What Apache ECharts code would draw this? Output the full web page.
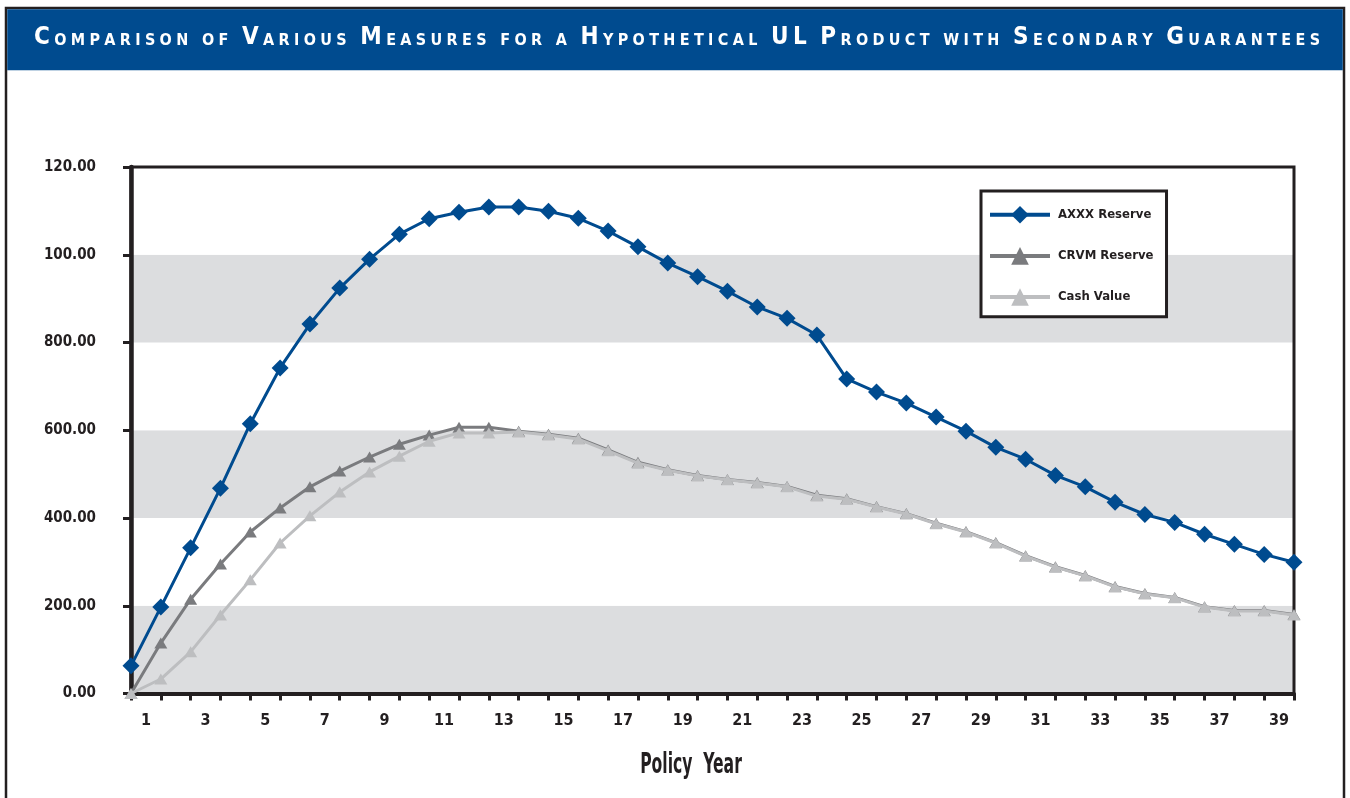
<!DOCTYPE html>
<html>
<head>
<meta charset="utf-8">
<script src="https://cdn.jsdelivr.net/npm/echarts@6/dist/echarts.min.js"></script>
<style>
  html, body { margin: 0; padding: 0; background: #ffffff; }
  #chart { width: 1350px; height: 798px; }
</style>
</head>
<body>
<div id="chart"></div>
<script>
// ---- chart text and values ----
const titleText = 'Comparison of Various Measures for a Hypothetical UL Product with Secondary Guarantees';
const xAxisTitle = 'Policy  Year';

const policyYears = ['1','2','3','4','5','6','7','8','9','10','11','12','13','14','15','16','17','18','19','20',
                     '21','22','23','24','25','26','27','28','29','30','31','32','33','34','35','36','37','38','39','40'];
const yearLabels = ['1','2','3','4','5','6','7','8','9','10','11','12','13','14','15','16','17','18','19','20',
                    '21','22','23','24','25','26','27','28','29','30','31','32','33','34','35','36','37','38','39'];
const yTickLabels = ['0.00', '200.00', '400.00', '600.00', '800.00', '100.00', '120.00'];

const seriesNames = ['AXXX Reserve', 'CRVM Reserve', 'Cash Value'];

const axxxReserve = [63, 197, 332, 468, 615, 742, 842, 924, 990, 1047,
                     1082, 1097, 1109, 1109, 1099, 1083, 1054, 1018, 981, 950,
                     917, 881, 855, 817, 717, 687, 662, 630, 598, 561,
                     534, 497, 471, 436, 408, 390, 363, 340, 317, 299];
const crvmReserve = [0, 115, 215, 295, 368, 423, 471, 507, 539, 568,
                     589, 607, 607, 598, 591, 582, 555, 527, 510, 497,
                     488, 481, 472, 452, 444, 426, 410, 388, 369, 344,
                     314, 289, 269, 244, 228, 219, 198, 189, 189, 180];
const cashValue   = [0, 33, 95, 179, 259, 343, 405, 459, 505, 541,
                     575, 594, 594, 596, 589, 580, 553, 525, 509, 496,
                     487, 480, 471, 450, 443, 425, 409, 387, 368, 343,
                     313, 288, 268, 243, 227, 218, 197, 188, 188, 179];

// ---- styling ----
const FONT = '"Liberation Sans Narrow", "DejaVu Sans Condensed", "Liberation Sans", sans-serif';
const INK = '#231f20';
const NAVY = '#004b8f';
const CRVM_GREY = '#7a7b7e';
const CASH_GREY = '#bdbec0';
const BAND = '#dcdddf';

// Small-caps title: capitals large, lower-case letters set as smaller capitals,
// with even tracking spread across the banner width.
const BIG = 24, SMALL = 16, TITLE_WEIGHT = 'bold';
const measureCtx = document.createElement('canvas').getContext('2d');
function textWidth(t, size) {
  measureCtx.font = 'normal ' + TITLE_WEIGHT + ' ' + size + 'px ' + FONT;
  return measureCtx.measureText(t).width;
}
const titleTokens = Array.from(titleText).map(function (ch) {
  const isCap = ch !== ' ' && ch === ch.toUpperCase();
  return { style: isCap ? 'b' : 's', text: ch.toUpperCase() };
});
let naturalWidth = 0;
titleTokens.forEach(function (t) { naturalWidth += textWidth(t.text, t.style === 'b' ? BIG : SMALL); });
const titleStart = 34, titleEnd = 1320;
const tracking = Math.max(0, (titleEnd - titleStart - naturalWidth) / (titleTokens.length - 1));
const titleRich = titleTokens.map(function (t) { return '{' + t.style + '|' + t.text + '}'; }).join('');

const chart = echarts.init(document.getElementById('chart'), null, { renderer: 'canvas' });

const option = {
  backgroundColor: '#ffffff',
  animation: false,
  title: {
    text: titleRich,
    left: titleStart - tracking / 2,
    top: 26,
    padding: 0,
    textStyle: {
      fontFamily: FONT,
      fontWeight: TITLE_WEIGHT,
      rich: {
        b: { fontFamily: FONT, fontWeight: TITLE_WEIGHT, fontSize: BIG, color: '#ffffff',
             height: 24.3, verticalAlign: 'bottom', padding: [0, tracking / 2, 0, tracking / 2] },
        s: { fontFamily: FONT, fontWeight: TITLE_WEIGHT, fontSize: SMALL, color: '#ffffff',
             height: 19.5, verticalAlign: 'bottom', padding: [0, tracking / 2, 0, tracking / 2] }
      }
    }
  },
  graphic: [
    { type: 'rect', z: -10, silent: true,
      shape: { x: 6, y: 8, width: 1338, height: 820 },
      style: { fill: '#ffffff', stroke: INK, lineWidth: 2.5 } },
    { type: 'rect', z: -9, silent: true,
      shape: { x: 7.25, y: 9.25, width: 1335.5, height: 61 },
      style: { fill: NAVY } },
    { type: 'text', silent: true, x: 691, y: 766, scaleX: 0.62,
      style: { text: xAxisTitle, fontFamily: FONT, fontWeight: 'bold', fontSize: 28, fill: INK,
               align: 'center', verticalAlign: 'middle' } }
  ],
  legend: {
    data: seriesNames,
    orient: 'vertical',
    left: 981,
    top: 191,
    padding: [15, 13, 11, 7],
    itemWidth: 60,
    itemHeight: 22,
    itemGap: 23.5,
    backgroundColor: '#ffffff',
    borderColor: INK,
    borderWidth: 3,
    borderRadius: 0,
    lineStyle: { width: 4 },
    textStyle: { fontFamily: FONT, fontWeight: 'bold', fontSize: 13, color: INK, padding: [0, 0, 0, 3] }
  },
  grid: {
    left: 131,
    right: 56,
    top: 167,
    bottom: 104.5,
    show: true,
    z: 1,
    backgroundColor: 'transparent',
    borderColor: INK,
    borderWidth: 3
  },
  xAxis: [
    {
      type: 'category',
      data: policyYears,
      boundaryGap: false,
      position: 'bottom',
      z: 2,
      axisLine: { show: true, lineStyle: { color: INK, width: 4 } },
      axisTick: { show: true, interval: 0, inside: false, length: 7, lineStyle: { color: INK, width: 3 } },
      axisLabel: { show: false },
      splitLine: { show: false }
    },
    {
      type: 'category',
      data: yearLabels,
      boundaryGap: true,
      position: 'bottom',
      axisLine: { show: false },
      axisTick: { show: false },
      axisLabel: { interval: 1, margin: 19, fontFamily: FONT, fontWeight: 'bold', fontSize: 16, color: INK },
      splitLine: { show: false }
    }
  ],
  yAxis: {
    type: 'value',
    min: 0,
    max: 1200,
    interval: 200,
    axisLine: { show: true, lineStyle: { color: INK, width: 4.5 } },
    axisTick: { show: true, inside: false, length: 8, lineStyle: { color: INK, width: 3 } },
    axisLabel: {
      margin: 35, fontFamily: FONT, fontWeight: 'bold', fontSize: 15, color: INK,
      formatter: function (value, index) { return yTickLabels[index]; }
    },
    splitLine: { show: false },
    splitArea: { show: true, areaStyle: { color: [BAND, '#ffffff'] } }
  },
  series: [
    {
      name: seriesNames[1], type: 'line', data: crvmReserve,
      symbol: 'triangle', symbolSize: [13, 11], showAllSymbol: true,
      itemStyle: { color: CRVM_GREY }, lineStyle: { color: CRVM_GREY, width: 3 }, z: 3
    },
    {
      name: seriesNames[2], type: 'line', data: cashValue,
      symbol: 'triangle', symbolSize: [13, 11], showAllSymbol: true,
      itemStyle: { color: CASH_GREY }, lineStyle: { color: CASH_GREY, width: 3 }, z: 4
    },
    {
      name: seriesNames[0], type: 'line', data: axxxReserve,
      symbol: 'diamond', symbolSize: 17, showAllSymbol: true,
      itemStyle: { color: NAVY }, lineStyle: { color: NAVY, width: 3 }, z: 5
    }
  ]
};

chart.setOption(option);
</script>
</body>
</html>
